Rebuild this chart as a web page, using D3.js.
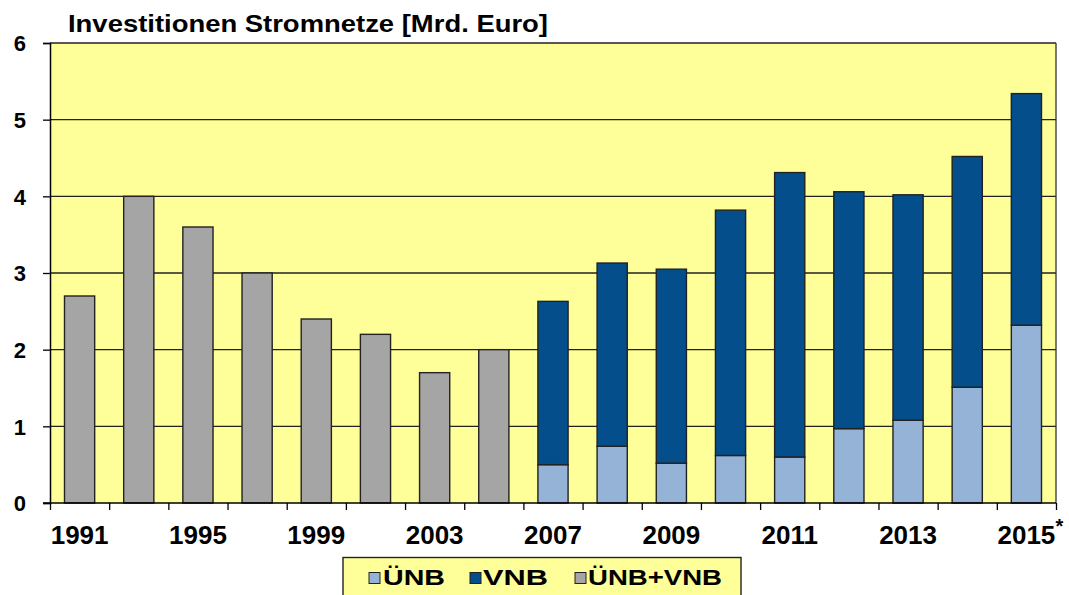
<!DOCTYPE html>
<html><head><meta charset="utf-8">
<script src="https://cdn.jsdelivr.net/npm/d3@7"></script>
<style>
html,body{margin:0;padding:0;background:#fff;}
svg{display:block;font-family:"Liberation Sans",Arial,sans-serif;font-weight:bold;}
</style></head>
<body><svg id="c" width="1069" height="595"></svg>
<script>
const years = ["1991","1993","1995","1997","1999","2001","2003","2005","2007","2008","2009","2010","2011","2012","2013","2014","2015"];
const combinedVals = [2.7,4.0,3.6,3.0,2.4,2.2,1.7,2.0,0,0,0,0,0,0,0,0,0];
const uenbVals = [0,0,0,0,0,0,0,0,0.50,0.74,0.52,0.62,0.60,0.97,1.08,1.51,2.32];
const vnbVals  = [0,0,0,0,0,0,0,0,2.13,2.39,2.53,3.20,3.71,3.09,2.94,3.01,3.02];
const xLabels = ["1991","1995","1999","2003","2007","2009","2011","2013","2015"];
const yTicks = [0,1,2,3,4,5,6];
const seriesNames = ["ÜNB","VNB","ÜNB+VNB"];
const title = "Investitionen Stromnetze [Mrd. Euro]";

const colors = {"ÜNB":"#95B3D7","VNB":"#034E8B","ÜNB+VNB":"#A5A5A5"};
const svg = d3.select("#c");
const L=50,R=1056,T=43,B=503;

const x = d3.scaleBand().domain(years).range([L,R]).paddingInner(0.49).paddingOuter(0.245);
const xi = d3.scaleLinear().domain([0,years.length]).range([L,R]);
const y = d3.scaleLinear().domain([0,6]).range([B,T]);

// plot background
svg.append("rect").attr("x",L).attr("y",T).attr("width",R-L).attr("height",B-T).attr("fill","#FFFF99");

// gridlines
svg.append("g").selectAll("line").data(yTicks.filter(d=>d>0)).join("line")
  .attr("x1",L).attr("x2",R).attr("y1",d=>y(d)).attr("y2",d=>y(d))
  .attr("stroke","#222").attr("stroke-width",1.3);
// right border
svg.append("line").attr("x1",R).attr("x2",R).attr("y1",T).attr("y2",B).attr("stroke","#333").attr("stroke-width",1.3);

const table = years.map((yr,i)=>({year:yr,"ÜNB":uenbVals[i],"VNB":vnbVals[i],"ÜNB+VNB":combinedVals[i]}));
const stack = d3.stack().keys(["ÜNB","VNB"]);
const stacked = stack(table);

// combined grey bars
svg.append("g").selectAll("rect").data(table.filter(d=>d["ÜNB+VNB"]>0)).join("rect")
  .attr("x",d=>x(d.year)).attr("width",x.bandwidth())
  .attr("y",d=>y(d["ÜNB+VNB"])).attr("height",d=>y(0)-y(d["ÜNB+VNB"]))
  .attr("fill",colors["ÜNB+VNB"]).attr("stroke","#222").attr("stroke-width",1.4);

stacked.forEach(s=>{
  svg.append("g").selectAll("rect").data(s.filter(d=>d[1]-d[0]>0)).join("rect")
    .attr("x",d=>x(d.data.year)).attr("width",x.bandwidth())
    .attr("y",d=>y(d[1])).attr("height",d=>y(d[0])-y(d[1]))
    .attr("fill",colors[s.key]).attr("stroke","#222").attr("stroke-width",1.4);
});

// y axis
const yAxis = d3.axisLeft(y).tickValues(yTicks).tickSize(7).tickPadding(17).tickFormat(d3.format("d"));
const gy = svg.append("g").attr("transform",`translate(${L},0)`).call(yAxis);
gy.select(".domain").attr("stroke","#000").attr("stroke-width",1.5);
gy.selectAll(".tick line").attr("stroke","#000").attr("stroke-width",1.3);
gy.selectAll(".tick text").attr("font-size",22).attr("font-weight","bold").attr("fill","#000")
  .attr("font-family","Liberation Sans, Arial, sans-serif").attr("dy","0.36em");

// x axis ticks at boundaries
const xTickAxis = d3.axisBottom(xi).tickValues(d3.range(years.length+1)).tickSize(7).tickFormat("");
const gx = svg.append("g").attr("transform",`translate(0,${B})`).call(xTickAxis);
gx.select(".domain").remove();
gx.selectAll(".tick line").attr("stroke","#000").attr("stroke-width",1.3);
svg.append("line").attr("x1",L-7).attr("x2",R).attr("y1",B).attr("y2",B).attr("stroke","#000").attr("stroke-width",1.5);

// x labels
const xAxis = d3.axisBottom(x).tickValues(xLabels).tickSize(0).tickPadding(22);
const gxl = svg.append("g").attr("transform",`translate(0,${B})`).call(xAxis);
gxl.select(".domain").remove();
gxl.selectAll(".tick text").attr("font-size",26).attr("font-weight","bold").attr("fill","#000")
  .attr("font-family","Liberation Sans, Arial, sans-serif").attr("dy","0").attr("y",41);
// asterisk
svg.append("text").attr("x",x("2015")+x.bandwidth()/2+29).attr("y",533).attr("font-size",20).text("*");

// title
svg.append("text").attr("x",68).attr("y",32).attr("font-size",24.5)
  .attr("textLength",480).attr("lengthAdjust","spacingAndGlyphs").text(title);

// legend
const lg = svg.append("g");
lg.append("rect").attr("x",343).attr("y",557.5).attr("width",398).attr("height",50)
  .attr("fill","#FFFF99").attr("stroke","#222").attr("stroke-width",1.4);
const legendItems = [
  {name:seriesNames[0], sx:369, tx:383, tw:62},
  {name:seriesNames[1], sx:470, tx:483, tw:65},
  {name:seriesNames[2], sx:575, tx:588, tw:134}
];
legendItems.forEach(it=>{
  lg.append("rect").attr("x",it.sx).attr("y",572.5).attr("width",11).attr("height",11)
    .attr("fill",colors[it.name]).attr("stroke","#222").attr("stroke-width",1);
  lg.append("text").attr("x",it.tx).attr("y",584.8).attr("font-size",22.5)
    .attr("textLength",it.tw).attr("lengthAdjust","spacingAndGlyphs").text(it.name);
});
</script></body></html>
